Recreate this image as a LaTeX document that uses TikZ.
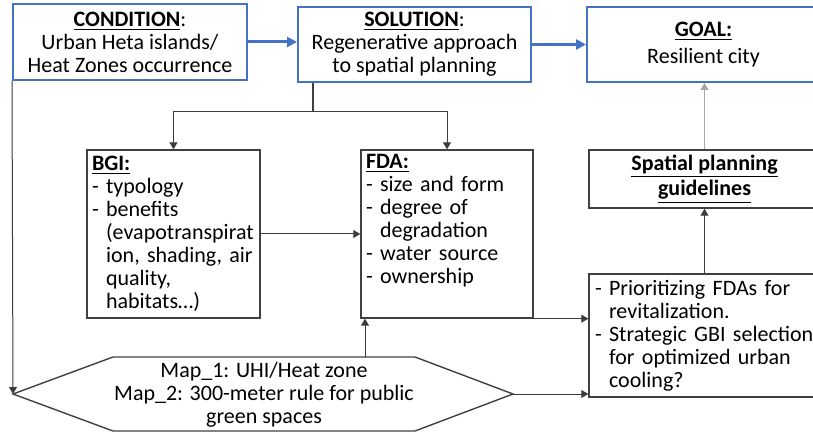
\documentclass[tikz,border=0pt]{standalone}
\usepackage{fontspec}
\setmainfont{Carlito}
\usetikzlibrary{positioning}
\usetikzlibrary{arrows.meta}
\definecolor{wordblue}{RGB}{68,114,196}
\definecolor{boxgray}{RGB}{64,64,64}
\definecolor{linkgray}{RGB}{60,60,60}

\begin{document}
\begin{tikzpicture}[x=0.5pt, y=-0.5pt,
  every node/.style={font=\fontsize{11}{11.5}\selectfont},
  bluebox/.style={draw=wordblue, line width=1pt, minimum width=116.5pt,
    minimum height=37.5pt, align=center, inner sep=0pt},
  boxline/.style={draw=boxgray, line width=0.7pt},
  plainbox/.style={boxline, inner sep=0pt},
  bigarrow/.style={-{Triangle[length=5pt,width=5pt]}, draw=wordblue, line width=1.5pt},
  link/.style={-{Triangle[length=3.5pt,width=4pt]}, draw=linkgray, line width=0.5pt}]

  \useasboundingbox (0,0) rectangle (813,432);
  \clip (0,0) rectangle (813,432);

%---------------------------------------
% Top row: condition, solution, goal
%---------------------------------------
  \node[bluebox, minimum width=117pt, minimum height=38pt] (cond) at (130,42)
    {\underline{\textbf{CONDITION}}:\\ Urban Heta islands/\\ Heat Zones occurrence};
  \node[bluebox] (sol) at (414.5,44.5)
    {\underline{\textbf{SOLUTION}}:\\ Regenerative approach\\ to spatial planning};
  \node[bluebox] (goal) at (703.5,44.5)
    {\underline{\textbf{GOAL:}}\\[2pt] Resilient city};

%---------------------------------------
% Middle row: BGI, FDA, guidelines
%---------------------------------------
  \node[plainbox, minimum width=86.5pt, minimum height=84pt,
        text width=81.5pt, align=left] (bgi) at (173.5,234)
    {\underline{\textbf{BGI:}}\\ - typology\\ - benefits\\
     \phantom{- }(evapotranspirat\\ \phantom{- }ion, shading, air\\
     \phantom{- }quality,\\ \phantom{- }habitats…)};
  \node[plainbox, minimum width=86pt, minimum height=84pt,
        text width=81pt, align=left] (fda) at (447,234)
    {\underline{\textbf{FDA:}}\\ - size and form\\ - degree of\\
     \phantom{- }degradation\\ - water source\\ - ownership\\ \strut};
  \node[plainbox, minimum width=115.5pt, minimum height=29pt,
        align=center] (guide) at (704.5,179)
    {\underline{\textbf{Spatial planning}}\\ \underline{\textbf{guidelines}}};

%---------------------------------------
% Bottom row: maps and outcomes
%---------------------------------------
  \node[plainbox, minimum width=115.5pt, minimum height=61.5pt,
        text width=109.5pt, align=left] (prio) at (704.5,335.5)
    {- Prioritizing FDAs for\\ \phantom{- }revitalization.\\
     - Strategic GBI selection\\ \phantom{- }for optimized urban\\
     \phantom{- }cooling?};

  % ---- hexagon with the two maps ----
  \coordinate (hexW) at (13,394);
  \coordinate (hexE) at (513,394);
  \coordinate (hexN) at (365,357);
  \draw[boxline] (113,357) -- (415,357) -- (hexE) -- (415,431)
    -- (113,431) -- (hexW) -- cycle;
  \node[align=center] (maps) at (264,395)
    {Map\_1: UHI/Heat zone\\ Map\_2: 300-meter rule for public\\ green spaces};

%---------------------------------------
% Connectors
%---------------------------------------
  \coordinate (split) at (313,112);
  \draw[bigarrow] (cond.east) -- (cond.east -| sol.west);
  \draw[bigarrow] (sol.east) -- (sol.east -| goal.west);
  \draw[boxline] (sol.south -| split) -- (split);
  \draw[link] (split) -| (bgi.north);
  \draw[link] (split) -| (fda.north);
  \draw[link] (bgi.east) -- (fda.west);
  \draw[link] (fda.south east) -- (fda.south east -| prio.west);
  \draw[link] (hexN) -- (hexN |- fda.south);
  \draw[link] (cond.south west) -- (hexW);
  \draw[link] (hexE) -- (hexE -| prio.west);
  \draw[link] (prio.north) -- (guide.south);
  \draw[link, draw=gray!70] (guide.north) -- (guide.north |- goal.south);

\end{tikzpicture}
\end{document}
